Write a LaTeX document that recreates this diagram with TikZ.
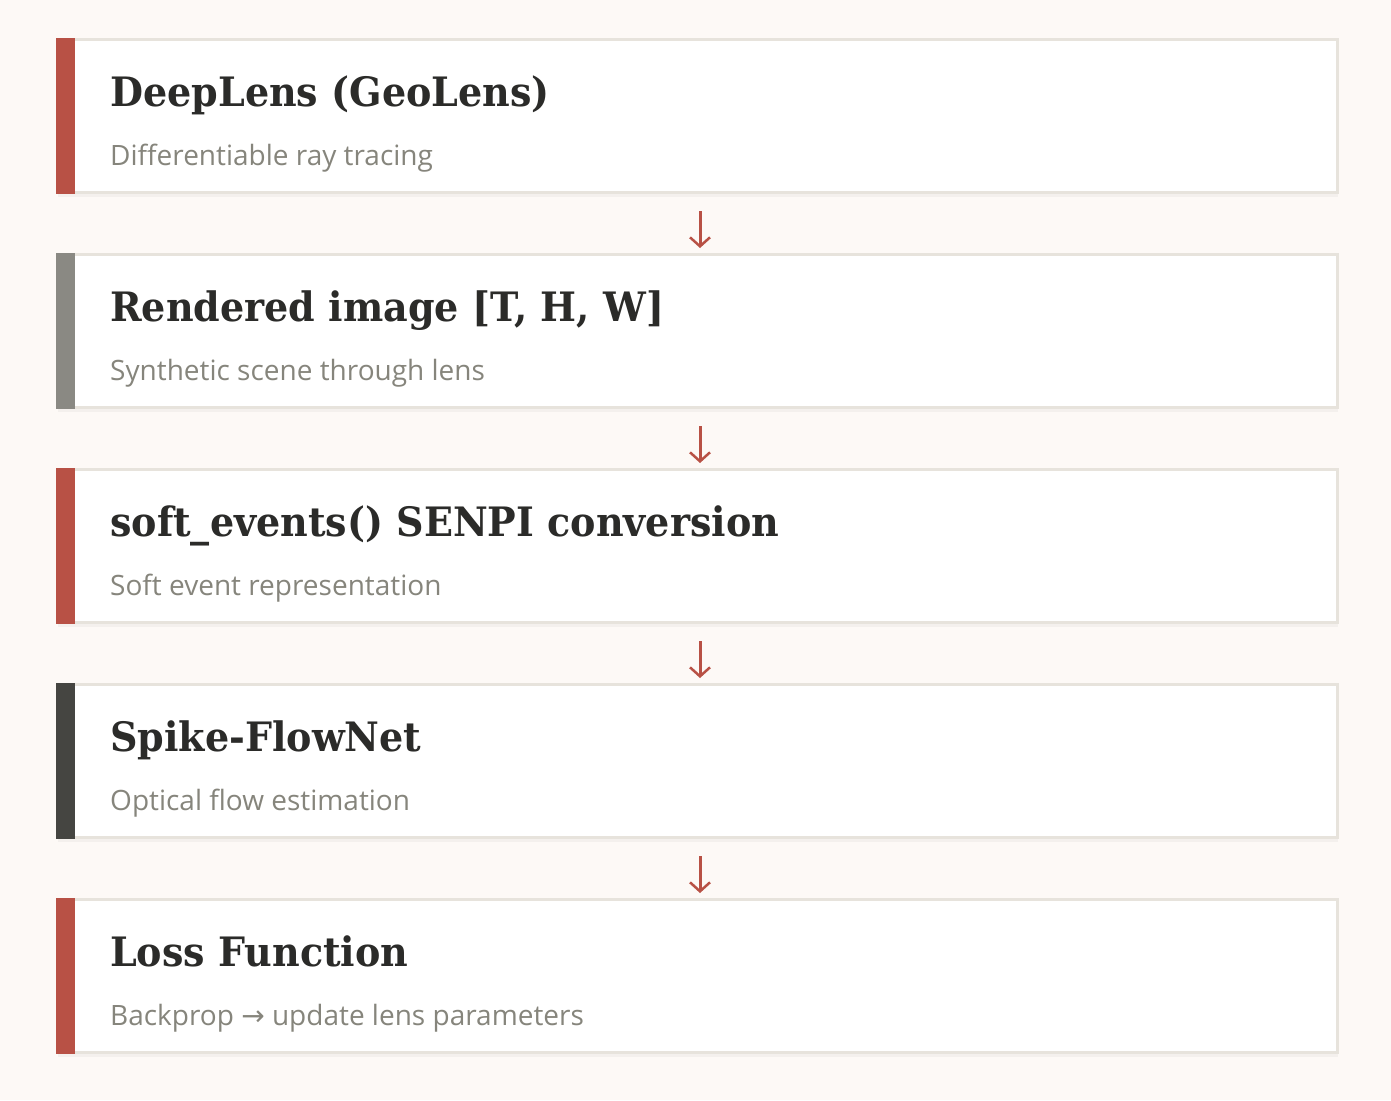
\documentclass[tikz,border=0pt]{standalone}
\usepackage{fontspec}
\usepackage{tikz}
\usetikzlibrary{arrows.meta,shadows}
\newfontfamily\headfont[FakeStretch=0.94]{DejaVu Serif}
\newfontfamily\notefont{Open Sans}
\newfontfamily\symfont{DejaVu Sans}
\definecolor{pagebg}{HTML}{FDF9F6}
\definecolor{edge}{HTML}{E7E3DC}
\definecolor{accent}{HTML}{B85145}
\definecolor{stone}{HTML}{8A8983}
\definecolor{slate}{HTML}{454541}
\definecolor{ink}{HTML}{2B2B29}
\definecolor{muted}{HTML}{86857C}
\begin{document}
\begin{tikzpicture}[x=1pt,y=-1pt,
	stage/.style={draw=edge, fill=white, line width=3pt, minimum width=1280pt, minimum height=153pt, inner sep=0pt,
		drop shadow={shadow xshift=0pt, shadow yshift=-4pt, opacity=0.035, fill=black}},
	head/.style={anchor=base west, inner sep=0pt, text=ink, font=\headfont\bfseries\fontsize{40.5}{48}\selectfont},
	note/.style={anchor=base west, inner sep=0pt, text=muted, font=\notefont\fontsize{28}{34}\selectfont},
	flow/.style={draw=accent, line width=3pt, -{Straight Barb[length=9pt, width=20pt, line width=2.5pt]}, shorten <=17pt, shorten >=5pt}]
	\fill[pagebg] (0,0) rectangle (1391,1100);
	\node[stage] (b1) at (697.5,116){};
	\node[stage] (b2) at (697.5,331){};
	\node[stage] (b3) at (697.5,546){};
	\node[stage] (b4) at (697.5,761){};
	\node[stage] (b5) at (697.5,976){};
	\fill[accent] (56,38) rectangle (75,194);
	\fill[stone] (56,253) rectangle (75,409);
	\fill[accent] (56,468) rectangle (75,624);
	\fill[slate] (56,683) rectangle (75,839);
	\fill[accent] (56,898) rectangle (75,1054);
	\node[head] (h1) at (110,106){DeepLens (GeoLens)};
	\node[note] (n1) at (110,165){Differentiable ray tracing};
	\node[head] (h2) at (110,321){Rendered image [T, H, W]};
	\node[note] (n2) at (110,380){Synthetic scene through lens};
	\node[head] (h3) at (110,536){soft\_events() SENPI conversion};
	\node[note] (n3) at (110,595){Soft event representation};
	\node[head] (h4) at (110,751){Spike-FlowNet};
	\node[note] (n4) at (110,810){Optical flow estimation};
	\node[head] (h5) at (110,966){Loss Function};
	\node[note] (n5) at (110,1025){Backprop {\symfont→} update lens parameters};
	\draw [flow] ([xshift=2.5pt]b1.south) -- ([xshift=2.5pt]b2.north);
	\draw [flow] ([xshift=2.5pt]b2.south) -- ([xshift=2.5pt]b3.north);
	\draw [flow] ([xshift=2.5pt]b3.south) -- ([xshift=2.5pt]b4.north);
	\draw [flow] ([xshift=2.5pt]b4.south) -- ([xshift=2.5pt]b5.north);
\end{tikzpicture}
\end{document}
